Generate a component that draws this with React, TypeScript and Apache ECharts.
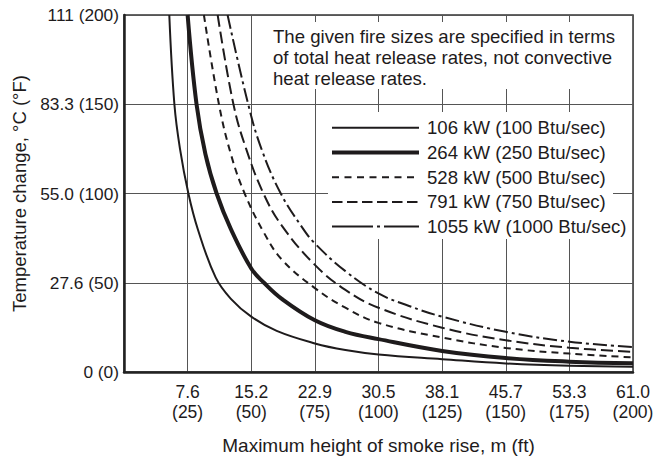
import React, { useEffect, useRef } from "react";
import * as echarts from "echarts";

// Axis ticks: x in feet (labels show metres over feet), y in °F (labels show °C (°F))
const xTicksFt = [0, 25, 50, 75, 100, 125, 150, 175, 200];
const xTickM = ["", "7.6", "15.2", "22.9", "30.5", "38.1", "45.7", "53.3", "61.0"];
const yTicksF = [0, 50, 100, 150, 200];
const yTickC = ["0", "27.6", "55.0", "83.3", "111"];

const seriesNames = [
  "106 kW (100 Btu/sec)",
  "264 kW (250 Btu/sec)",
  "528 kW (500 Btu/sec)",
  "791 kW (750 Btu/sec)",
  "1055 kW (1000 Btu/sec)",
];

// [height ft, temperature change °F]
const fire106 = [
  [17.8, 200], [19.8, 150], [22, 125], [25.3, 100], [29, 80], [36, 53], [42, 41],
  [50, 31], [60, 23], [75, 16], [87, 12.3], [100, 9.8], [125, 7.2], [150, 4.8],
  [175, 3.5], [200, 3],
];
const fire264 = [
  [25, 200], [28.5, 150], [32, 122], [36.4, 100], [42, 80], [50, 58], [55, 50],
  [62, 41], [75, 29], [87, 22.5], [100, 18.4], [125, 11.8], [150, 7.8], [175, 5.8],
  [200, 4.9],
];
const fire528 = [
  [31.4, 200], [37.3, 150], [42, 122], [47.4, 100], [55, 78], [62, 63], [75, 47],
  [87, 36], [100, 27.5], [125, 19.3], [150, 13.5], [175, 10.3], [200, 8.2],
];
const fire791 = [
  [36.8, 200], [43, 150], [48, 125], [54.8, 100], [62, 82], [75, 60], [87, 46],
  [100, 36], [125, 24.8], [150, 17.8], [175, 13.6], [200, 11.3],
];
const fire1055 = [
  [40.7, 200], [48.8, 150], [54, 125], [61.6, 100], [70, 81], [75, 72], [87, 56.5],
  [100, 44], [112, 37], [125, 31], [150, 22.5], [175, 17], [200, 14],
];

const noteLines = [
  "The given fire sizes are specified in terms",
  "of total heat release rates, not convective",
  "heat release rates.",
];

const FONT = "'Liberation Sans', Arial, Helvetica, sans-serif";
const INK = "#1e1b1c";

const lineStyles = [
  { width: 2, type: "solid" as any },
  { width: 4, type: "solid" as any },
  { width: 2, type: [7, 5] as any },
  { width: 2, type: [12, 5] as any },
  { width: 2, type: [14, 4, 3, 4] as any },
];
const legendDash: any[] = [null, null, [7, 5.5], [10.5, 4.5], [41, 4, 3, 4]];

export default function App() {
  const ref = useRef<HTMLDivElement>(null);
  useEffect(() => {
    if (!ref.current) return;
    const chart = echarts.init(ref.current, undefined, { renderer: "svg" });
    const datasets = [fire106, fire264, fire528, fire791, fire1055];

    const legendY0 = 127.8;
    const legendStep = 24.7;
    const graphic: any[] = [
      { type: "rect", z: 10, shape: { x: 262, y: 22, width: 369, height: 67 }, style: { fill: "#fff" } },
      { type: "rect", z: 10, shape: { x: 328, y: 112, width: 285, height: 127 }, style: { fill: "#fff" } },
      {
        type: "text", z: 11, x: 273, y: 25.5,
        style: { text: noteLines.join("\n"), fill: INK, fontSize: 18.6, fontFamily: FONT, lineHeight: 21, verticalAlign: "top", align: "left" },
      },
    ];
    seriesNames.forEach((n, i) => {
      const y = legendY0 + i * legendStep;
      graphic.push({
        type: "line", z: 11,
        shape: { x1: 332, y1: y, x2: 419, y2: y },
        style: { stroke: INK, lineWidth: lineStyles[i].width, lineDash: legendDash[i] || undefined },
      });
      graphic.push({
        type: "text", z: 11, x: 427, y,
        style: { text: n, fill: INK, fontSize: 18.6, fontFamily: FONT, verticalAlign: "middle", align: "left" },
      });
    });

    chart.setOption({
      animation: false,
      grid: {
        left: 124, right: 28, top: 15, bottom: 84,
        show: true, borderColor: "#333", borderWidth: 1.5, backgroundColor: "#fff",
        outerBoundsMode: "none",
      },
      xAxis: {
        type: "value", min: 0, max: 200, interval: 25,
        name: "Maximum height of smoke rise, m (ft)",
        nameLocation: "middle", nameGap: 64,
        nameTextStyle: { fontSize: 19, fontFamily: FONT, color: INK },
        axisLine: { show: true, onZero: false, lineStyle: { color: "#222", width: 2.5 } },
        axisTick: { show: false },
        splitLine: { show: true, lineStyle: { color: "#555", width: 1 } },
        axisLabel: {
          margin: 10, fontSize: 17.5, fontFamily: FONT, color: INK, lineHeight: 20,
          formatter: (v: number) => {
            const i = xTicksFt.indexOf(v);
            if (i <= 0) return "";
            return `${xTickM[i]}\n(${v})`;
          },
        },
      },
      yAxis: {
        type: "value", min: 0, max: 200, interval: 50,
        name: "Temperature change, °C (°F)",
        nameLocation: "middle", nameGap: 93,
        nameTextStyle: { fontSize: 18.5, fontFamily: FONT, color: INK },
        axisLine: { show: true, onZero: false, lineStyle: { color: "#222", width: 2.5 } },
        axisTick: { show: false },
        splitLine: { show: true, lineStyle: { color: "#555", width: 1 } },
        axisLabel: {
          margin: 5, fontSize: 17.3, fontFamily: FONT, color: INK,
          formatter: (v: number) => {
            const i = yTicksF.indexOf(v);
            return i < 0 ? "" : `${yTickC[i]} (${v})`;
          },
        },
      },
      graphic,
      series: datasets.map((d, i) => ({
        type: "line",
        name: seriesNames[i],
        data: d,
        showSymbol: false,
        symbol: "none",
        smooth: 0.4,
        clip: true,
        lineStyle: { color: INK, width: lineStyles[i].width, type: lineStyles[i].type, cap: "butt" },
        z: 3,
      })),
    });
    return () => chart.dispose();
  }, []);
  return (
    <div
      ref={ref}
      style={{ position: "fixed", left: 0, top: 0, width: 661, height: 456, background: "#fff" }}
    />
  );
}
